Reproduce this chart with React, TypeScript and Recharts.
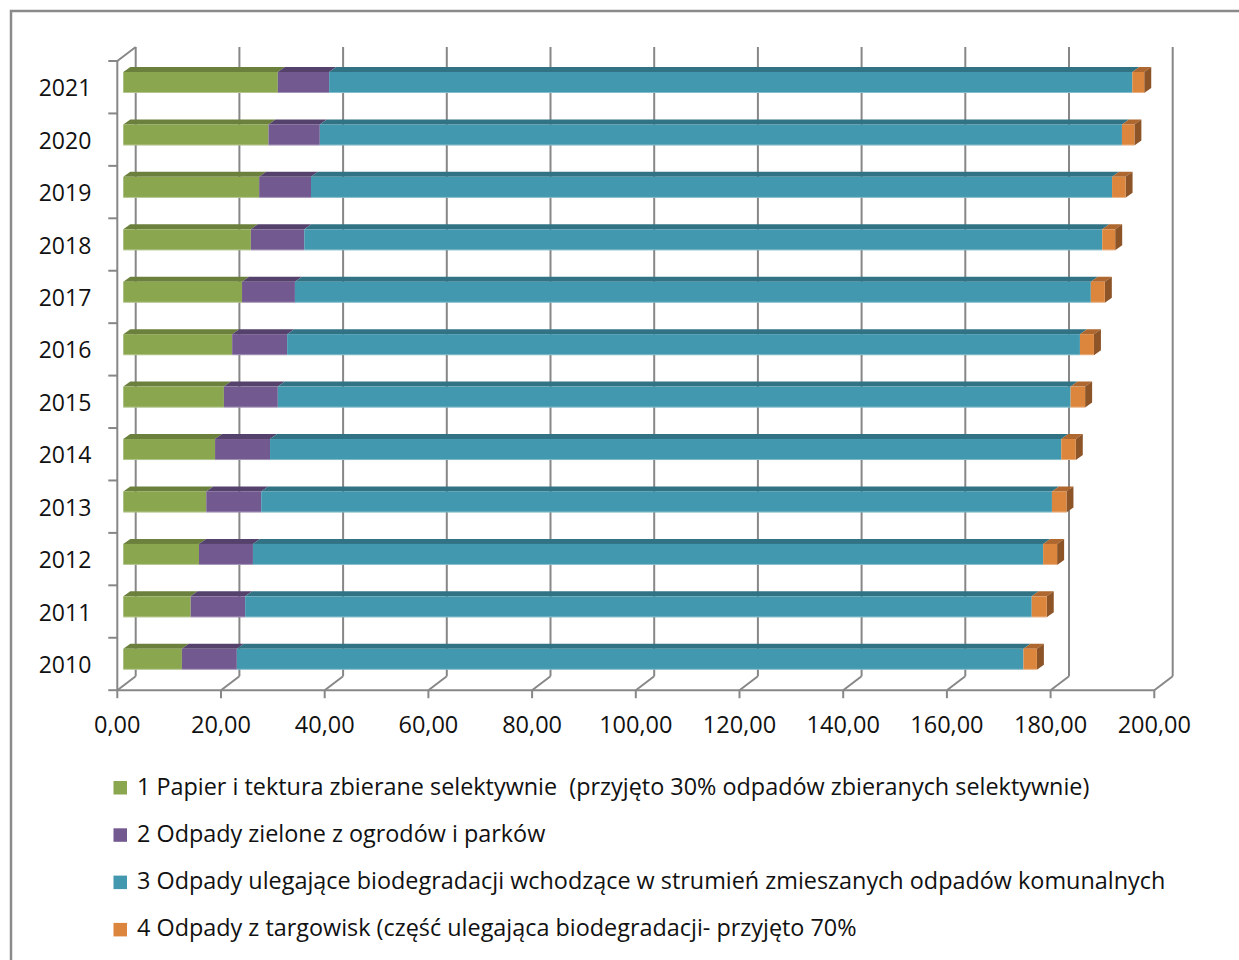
import React from "react";
import { BarChart, Bar, XAxis, YAxis, CartesianGrid } from "recharts";

// rows from the bottom (2010) up to 2021
const years = ["2010", "2011", "2012", "2013", "2014", "2015", "2016", "2017", "2018", "2019", "2020", "2021"];
const paperCardboard = [11.3, 13.0, 14.6, 16.0, 17.7, 19.4, 21.0, 22.9, 24.6, 26.2, 28.0, 29.8];
const greenWaste = [10.6, 10.5, 10.4, 10.6, 10.6, 10.4, 10.6, 10.2, 10.3, 10.0, 9.9, 9.9];
const mixedBio = [151.7, 151.7, 152.4, 152.5, 152.6, 152.9, 152.9, 153.5, 153.9, 154.5, 154.7, 154.9];
const marketWaste = [2.6, 2.9, 2.7, 2.8, 2.8, 2.8, 2.7, 2.7, 2.5, 2.6, 2.4, 2.3];

const valueTicks = [0, 20, 40, 60, 80, 100, 120, 140, 160, 180, 200];

const seriesLabels = [
  "1 Papier i tektura zbierane selektywnie  (przyjęto 30% odpadów zbieranych selektywnie)",
  "2 Odpady zielone z ogrodów i parków",
  "3 Odpady ulegające biodegradacji wchodzące w strumień zmieszanych odpadów komunalnych",
  "4 Odpady z targowisk (część ulegająca biodegradacji- przyjęto 70%",
];

const rows = years.map((year, i) => ({
  year,
  paper: paperCardboard[i],
  green: greenWaste[i],
  mixed: mixedBio[i],
  market: marketWaste[i],
}));

const series = [
  { key: "paper", front: "#8AA64F", top: "#6B803C", side: "#5E7134" },
  { key: "green", front: "#72598F", top: "#55426C", side: "#4A3A5E" },
  { key: "mixed", front: "#4198AF", top: "#317384", side: "#2A6372" },
  { key: "market", front: "#DC853D", top: "#AD672F", side: "#8D5428" },
];

// layout (page pixels)
const W = 1239;
const H = 960;
const PLOT_LEFT = 123.3;
const PLOT_TOP = 56;
const PLOT_W = 1037;
const PLOT_H = 629.2;
const Y_AXIS_W = 100;
const X_AXIS_H = 60;

// 3d offsets from the bar plane
const FRONT = { dx: -6, dy: 5 };
const BACK = { dx: 12.4, dy: -9 };
const BAR_DEPTH = { dx: 7, dy: 5 };

const FRONT_LEFT = PLOT_LEFT + FRONT.dx;
const FRONT_RIGHT = PLOT_LEFT + PLOT_W + FRONT.dx;
const FRONT_TOP = PLOT_TOP + FRONT.dy;
const FRONT_BOTTOM = PLOT_TOP + PLOT_H + FRONT.dy;
const BAND = PLOT_H / years.length;

const AXIS_COLOR = "#878787";
const FONT = "'Open Sans', sans-serif";

const fmt = (v: number) => v.toFixed(2).replace(".", ",");

const makeBox = (s: (typeof series)[number], withSide: boolean) => (props: any) => {
  const { x, y, width, height } = props;
  if (!width || width <= 0) return <g />;
  const { dx, dy } = BAR_DEPTH;
  return (
    <g>
      <polygon
        points={`${x},${y} ${x + dx},${y - dy} ${x + width + dx},${y - dy} ${x + width},${y}`}
        fill={s.top}
      />
      {withSide && (
        <polygon
          points={`${x + width},${y} ${x + width + dx},${y - dy} ${x + width + dx},${y + height - dy} ${x + width},${y + height}`}
          fill={s.side}
        />
      )}
      <rect x={x} y={y} width={width} height={height} fill={s.front} />
      <line x1={x} y1={y + height - 0.5} x2={x + width} y2={y + height - 0.5} stroke="#ffffff" strokeOpacity={0.35} />
    </g>
  );
};

// back wall line plus the floor diagonal to the front edge
const backWallLine = (props: any) => {
  const { x1, y1, y2, key } = props;
  const bx = x1 + BACK.dx;
  return (
    <g key={key}>
      <line x1={bx} y1={y1 + BACK.dy} x2={bx} y2={y2 + BACK.dy} stroke={AXIS_COLOR} strokeWidth={2} />
      <line x1={bx} y1={y2 + BACK.dy} x2={x1 + FRONT.dx} y2={y2 + FRONT.dy} stroke={AXIS_COLOR} strokeWidth={2} />
    </g>
  );
};

const ValueTick = (props: any) => {
  const { x, payload } = props;
  const fx = x + FRONT.dx;
  return (
    <g>
      <line x1={fx} y1={FRONT_BOTTOM} x2={fx} y2={FRONT_BOTTOM + 8} stroke={AXIS_COLOR} strokeWidth={2} />
      <text x={fx} y={FRONT_BOTTOM + 43} textAnchor="middle" fontFamily={FONT} fontSize={23.5} fill="#111">
        {fmt(payload.value)}
      </text>
    </g>
  );
};

const YearTick = (props: any) => {
  const { y, payload } = props;
  return (
    <text x={FRONT_LEFT - 26} y={y + 14} textAnchor="end" fontFamily={FONT} fontSize={23} fill="#111">
      {payload.value}
    </text>
  );
};

const Frame = () => (
  <svg width={W} height={H} style={{ position: "absolute", left: 0, top: 0, pointerEvents: "none" }}>
    <rect x={11} y={11} width={W + 20} height={H + 20} fill="none" stroke="#8a8a8a" strokeWidth={2.5} />
    <line x1={FRONT_LEFT} y1={FRONT_TOP} x2={FRONT_LEFT} y2={FRONT_BOTTOM} stroke={AXIS_COLOR} strokeWidth={2} />
    <line x1={FRONT_LEFT} y1={FRONT_TOP} x2={PLOT_LEFT + BACK.dx} y2={PLOT_TOP + BACK.dy} stroke={AXIS_COLOR} strokeWidth={2} />
    <line x1={FRONT_LEFT} y1={FRONT_BOTTOM} x2={FRONT_RIGHT} y2={FRONT_BOTTOM} stroke={AXIS_COLOR} strokeWidth={2} />
    {years.concat([""]).map((_, k) => (
      <line
        key={k}
        x1={FRONT_LEFT - 9}
        y1={FRONT_TOP + k * BAND}
        x2={FRONT_LEFT}
        y2={FRONT_TOP + k * BAND}
        stroke={AXIS_COLOR}
        strokeWidth={2}
      />
    ))}
    {seriesLabels.map((label, i) => {
      const top = 781 + i * 47.3;
      return (
        <g key={label}>
          <rect x={113.5} y={top} width={13.5} height={13.5} fill={series[i].front} />
          <text x={137} y={top + 13.5} fontFamily={FONT} fontSize={23.4} fill="#111" style={{ whiteSpace: "pre" }}>
            {label}
          </text>
        </g>
      );
    })}
  </svg>
);

export default function App() {
  return (
    <div style={{ position: "fixed", left: 0, top: 0, width: W, height: H, overflow: "hidden", background: "#fff" }}>
      <BarChart
        width={W}
        height={H}
        data={rows}
        layout="vertical"
        barSize={21}
        margin={{
          top: PLOT_TOP,
          left: PLOT_LEFT - Y_AXIS_W,
          right: W - PLOT_LEFT - PLOT_W,
          bottom: H - PLOT_TOP - PLOT_H - X_AXIS_H,
        }}
      >
        <CartesianGrid horizontal={false} vertical={backWallLine} />
        {series.map((s, i) => (
          <Bar
            key={s.key}
            dataKey={s.key}
            stackId="total"
            name={seriesLabels[i]}
            fill={s.front}
            shape={makeBox(s, i === series.length - 1)}
            isAnimationActive={false}
          />
        ))}
        <XAxis
          type="number"
          domain={[0, 200]}
          ticks={valueTicks}
          interval={0}
          height={X_AXIS_H}
          axisLine={false}
          tickLine={false}
          tick={ValueTick}
        />
        <YAxis
          type="category"
          dataKey="year"
          reversed
          interval={0}
          width={Y_AXIS_W}
          axisLine={false}
          tickLine={false}
          tick={YearTick}
        />
      </BarChart>
      <Frame />
    </div>
  );
}
